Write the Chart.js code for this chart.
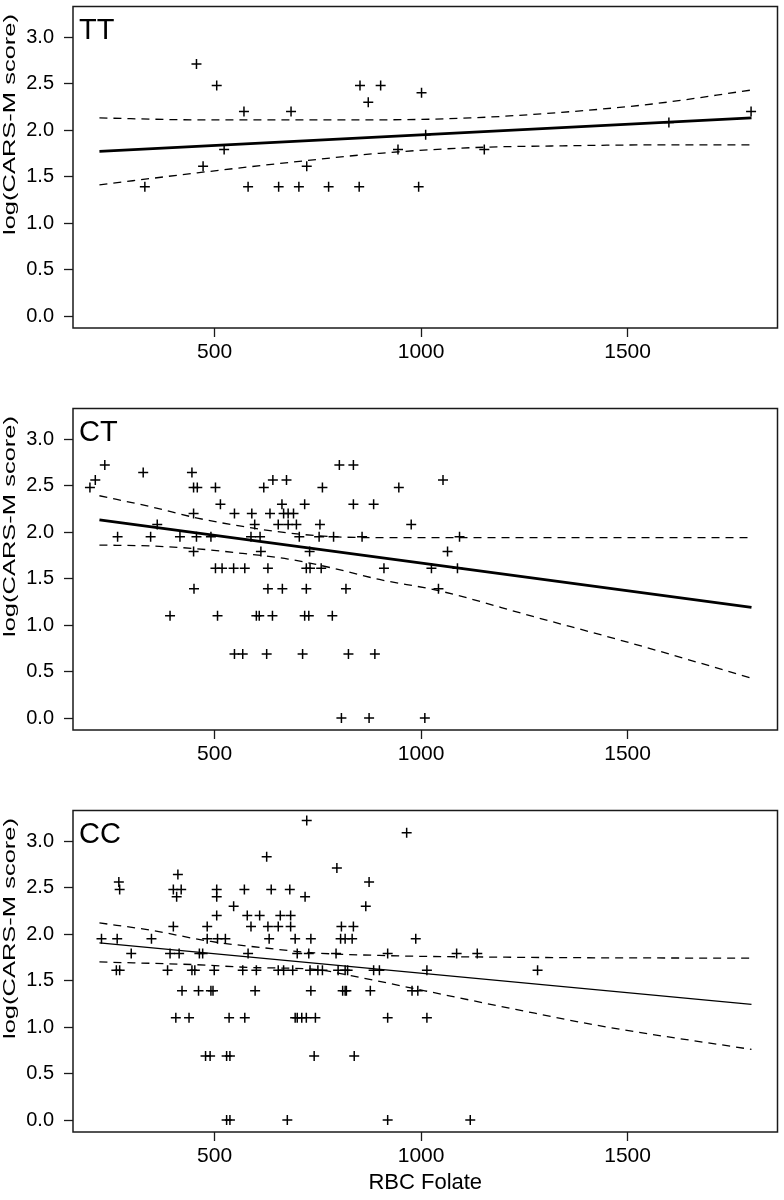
<!DOCTYPE html>
<html>
<head>
<meta charset="utf-8">
<title>log(CARS-M score) vs RBC Folate</title>
<script src="https://cdn.jsdelivr.net/npm/chart.js@4.4.1/dist/chart.umd.min.js"></script>
<style>
  body { margin: 0; background: #fff; }
  canvas { display: block; }
</style>
</head>
<body>
<canvas id="ttChart" width="784" height="402"></canvas>
<canvas id="ctChart" width="784" height="402"></canvas>
<canvas id="ccChart" width="784" height="396"></canvas>
<script>
// axis ticks
const xTicks = [500, 1000, 1500];
const yTicks = [0, 0.5, 1.0, 1.5, 2.0, 2.5, 3.0];

// TT genotype
const ttX = [456, 505, 571, 685, 852, 902, 872, 1001, 1799, 1600, 1011, 523, 944, 1153, 472, 723, 331, 581, 655, 704, 776, 850, 994];
const ttY = [2.71, 2.48, 2.20, 2.20, 2.48, 2.48, 2.30, 2.40, 2.20, 2.08, 1.95, 1.79, 1.79, 1.79, 1.61, 1.61, 1.39, 1.39, 1.39, 1.39, 1.39, 1.39, 1.39];

// CT genotype
const ctX = [
  234, 802, 836,
  327, 445,
  211, 641, 674, 1053,
  198, 449, 458, 502, 619, 761, 946,
  514, 663, 718, 836, 885,
  449, 548, 590, 634, 667, 678, 691,
  361, 597, 654, 678, 698, 755, 976,
  265, 345, 416, 456, 491, 588, 610, 705, 753, 788, 857, 1093,
  449, 612, 730, 1064,
  502, 518, 546, 573, 629, 722, 731, 758, 910, 1025, 1088,
  450, 629, 664, 722, 818, 1042,
  392, 507, 601, 608, 640, 718, 728, 785,
  548, 568, 626, 713, 824, 888,
  807, 874, 1009
];
const ctY = [
  2.72, 2.72, 2.72,
  2.64, 2.64,
  2.56, 2.56, 2.56, 2.56,
  2.48, 2.48, 2.48, 2.48, 2.48, 2.48, 2.48,
  2.30, 2.30, 2.30, 2.30, 2.30,
  2.20, 2.20, 2.20, 2.20, 2.20, 2.20, 2.20,
  2.08, 2.08, 2.08, 2.08, 2.08, 2.08, 2.08,
  1.95, 1.95, 1.95, 1.95, 1.95, 1.95, 1.95, 1.95, 1.95, 1.95, 1.95, 1.95,
  1.79, 1.79, 1.79, 1.79,
  1.61, 1.61, 1.61, 1.61, 1.61, 1.61, 1.61, 1.61, 1.61, 1.61, 1.61,
  1.39, 1.39, 1.39, 1.39, 1.39, 1.39,
  1.10, 1.10, 1.10, 1.10, 1.10, 1.10, 1.10, 1.10,
  0.69, 0.69, 0.69, 0.69, 0.69, 0.69,
  0, 0, 0
];

// CC genotype
const ccX = [
  723, 965, 626, 796, 411,
  268, 874,
  270, 400, 419, 505, 572, 637, 682,
  408, 505, 719,
  546, 866,
  505, 579, 609, 659, 684,
  400, 482, 588, 629, 654, 684, 807, 836,
  226, 264, 347, 482, 507, 526, 632, 695, 733, 805, 816, 833, 987,
  298, 392, 414, 463, 471, 581, 700, 728, 794, 919, 1086, 1136,
  262, 270, 386, 445, 452, 499, 568, 601, 654, 667, 689, 731, 750, 761, 799, 816, 822, 885, 899, 1014, 1282,
  421, 461, 491, 496, 598, 733, 810, 816, 819, 877, 978, 992,
  406, 438, 535, 573, 695, 700, 711, 722, 744, 919, 1014,
  478, 489, 529, 537, 741, 838,
  529, 537, 676, 919, 1119
];
const ccY = [
  3.22, 3.09, 2.83, 2.71, 2.64,
  2.56, 2.56,
  2.48, 2.48, 2.48, 2.48, 2.48, 2.48, 2.48,
  2.40, 2.40, 2.40,
  2.30, 2.30,
  2.20, 2.20, 2.20, 2.20, 2.20,
  2.08, 2.08, 2.08, 2.08, 2.08, 2.08, 2.08, 2.08,
  1.95, 1.95, 1.95, 1.95, 1.95, 1.95, 1.95, 1.95, 1.95, 1.95, 1.95, 1.95, 1.95,
  1.79, 1.79, 1.79, 1.79, 1.79, 1.79, 1.79, 1.79, 1.79, 1.79, 1.79, 1.79,
  1.61, 1.61, 1.61, 1.61, 1.61, 1.61, 1.61, 1.61, 1.61, 1.61, 1.61, 1.61, 1.61, 1.61, 1.61, 1.61, 1.61, 1.61, 1.61, 1.61, 1.61,
  1.39, 1.39, 1.39, 1.39, 1.39, 1.39, 1.39, 1.39, 1.39, 1.39, 1.39, 1.39,
  1.10, 1.10, 1.10, 1.10, 1.10, 1.10, 1.10, 1.10, 1.10, 1.10, 1.10,
  0.69, 0.69, 0.69, 0.69, 0.69, 0.69,
  0, 0, 0, 0, 0
];

// fitted lines (end points) and dashed bands
const fitX = [221, 1800];
const ttFit = [1.77, 2.13];
const ctFit = [2.13, 1.19];
const ccFit = [1.905, 1.243];

const ttUpperX = [221, 458, 678, 899, 1119, 1340, 1560, 1800];
const ttUpper = [2.13, 2.11, 2.11, 2.11, 2.13, 2.19, 2.28, 2.43];
const ttLowerX = [221, 458, 678, 899, 1119, 1340, 1560, 1800];
const ttLower = [1.41, 1.54, 1.65, 1.75, 1.81, 1.83, 1.84, 1.84];

const ctUpperX = [221, 347, 458, 568, 678, 788, 899, 1800];
const ctUpper = [2.39, 2.27, 2.15, 2.06, 1.99, 1.95, 1.94, 1.94];
const ctLowerX = [221, 347, 458, 568, 678, 788, 899, 1042, 1273, 1505, 1800];
const ctLower = [1.86, 1.85, 1.82, 1.77, 1.71, 1.61, 1.49, 1.37, 1.09, 0.81, 0.43];

const ccUpperX = [221, 347, 491, 623, 733, 899, 1229, 1800];
const ccUpper = [2.12, 2.04, 1.92, 1.85, 1.80, 1.77, 1.75, 1.74];
const ccLowerX = [221, 458, 590, 744, 833, 1009, 1229, 1450, 1800];
const ccLower = [1.70, 1.67, 1.64, 1.62, 1.55, 1.39, 1.19, 1.00, 0.76];

const FONT = '"Liberation Sans", Arial, Helvetica, sans-serif';
const INK = '#1a1a1a';

const toPoints = (xs, ys) => xs.map((x, i) => ({ x, y: ys[i] }));

// box around plot area, panel tag, y title
const panelDecor = {
  id: 'panelDecor',
  afterDraw(chart, args, opts) {
    const { ctx, chartArea: a } = chart;
    ctx.save();
    ctx.strokeStyle = INK;
    ctx.lineWidth = 1.5;
    ctx.strokeRect(a.left, a.top, a.right - a.left, a.bottom - a.top);

    ctx.fillStyle = '#000';
    ctx.font = `29px ${FONT}`;
    ctx.textAlign = 'left';
    ctx.textBaseline = 'alphabetic';
    ctx.fillText(opts.label, a.left + 6, a.top + 32);

    // the source title is long and narrow, so stretch it along its length
    ctx.translate(10, a.top + 118);
    ctx.rotate(-Math.PI / 2);
    ctx.scale(1.5, 1);
    ctx.font = `17px ${FONT}`;
    ctx.textAlign = 'center';
    ctx.textBaseline = 'middle';
    ctx.fillText('log(CARS-M score)', 0, 0);
    ctx.restore();
  }
};

function makePanel(id, label, xs, ys, fit, fitWidth, upX, up, loX, lo, last) {
  const ctx = document.getElementById(id).getContext('2d');
  return new Chart(ctx, {
    type: 'scatter',
    data: {
      datasets: [
        {
          label: label,
          data: toPoints(xs, ys),
          pointStyle: 'cross',
          pointRadius: 5,
          pointBorderColor: '#000',
          pointBorderWidth: 1.5,
          showLine: false
        },
        {
          label: 'fit',
          data: toPoints(fitX, fit),
          showLine: true,
          borderColor: '#000',
          borderWidth: fitWidth,
          pointRadius: 0
        },
        {
          label: 'upper',
          data: toPoints(upX, up),
          showLine: true,
          borderColor: '#000',
          borderWidth: 1.3,
          borderDash: [8, 6],
          cubicInterpolationMode: 'monotone',
          pointRadius: 0
        },
        {
          label: 'lower',
          data: toPoints(loX, lo),
          showLine: true,
          borderColor: '#000',
          borderWidth: 1.3,
          borderDash: [8, 6],
          cubicInterpolationMode: 'monotone',
          pointRadius: 0
        }
      ]
    },
    options: {
      responsive: false,
      animation: false,
      layout: { padding: { top: 1, right: 1, left: 0, bottom: 0 } },
      plugins: {
        legend: { display: false },
        tooltip: { enabled: false },
        panelDecor: { label }
      },
      scales: {
        x: {
          type: 'linear',
          min: 157,
          max: 1863,
          afterBuildTicks: s => { s.ticks = xTicks.map(v => ({ value: v })); },
          afterFit: s => {
            s.height = last ? 68 : 74;
            s.paddingLeft = 0;
            s.paddingRight = 0;
          },
          border: { display: false },
          grid: { drawOnChartArea: false, drawTicks: true, tickLength: 9, color: INK, tickWidth: 1.3 },
          ticks: {
            color: '#000',
            font: { size: 21, family: FONT },
            padding: 3,
            maxRotation: 0,
            autoSkip: false,
            callback: v => String(v)
          },
          title: {
            display: last,
            text: 'RBC Folate',
            color: '#000',
            font: { size: 22, family: FONT },
            padding: { top: 4, bottom: 4 }
          }
        },
        y: {
          type: 'linear',
          min: -0.128,
          max: 3.328,
          afterBuildTicks: s => { s.ticks = yTicks.map(v => ({ value: v })); },
          afterFit: s => {
            s.width = 73;
            s.paddingTop = 0;
            s.paddingBottom = 0;
          },
          border: { display: false },
          grid: { drawOnChartArea: false, drawTicks: true, tickLength: 9, color: INK, tickWidth: 1.3 },
          ticks: {
            color: '#000',
            font: { size: 20, family: FONT },
            padding: 10,
            callback: v => Number(v).toFixed(1)
          }
        }
      }
    },
    plugins: [panelDecor]
  });
}

makePanel('ttChart', 'TT', ttX, ttY, ttFit, 2.8, ttUpperX, ttUpper, ttLowerX, ttLower, false);
makePanel('ctChart', 'CT', ctX, ctY, ctFit, 2.8, ctUpperX, ctUpper, ctLowerX, ctLower, false);
makePanel('ccChart', 'CC', ccX, ccY, ccFit, 1.3, ccUpperX, ccUpper, ccLowerX, ccLower, true);
</script>
</body>
</html>
